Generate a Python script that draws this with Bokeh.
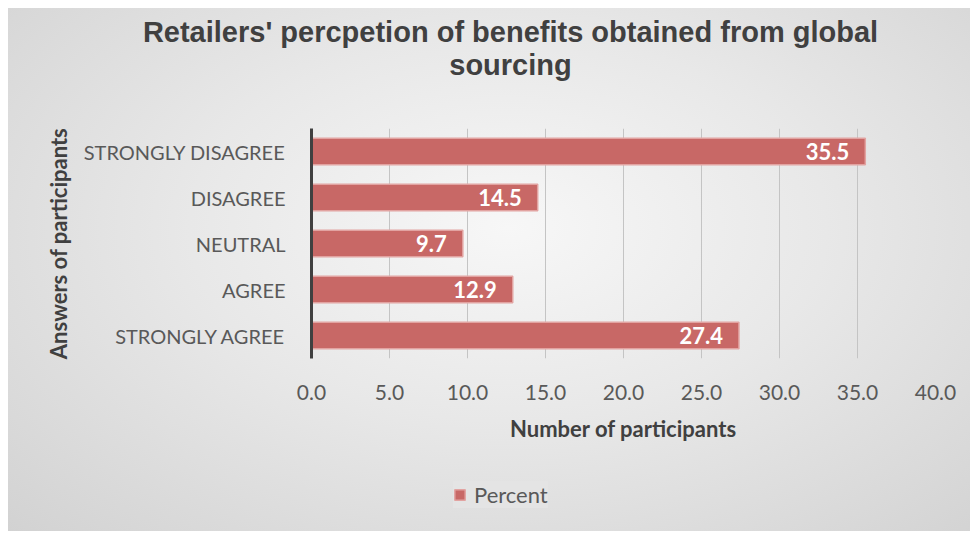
from bokeh.plotting import figure
from bokeh.layouts import column
from bokeh.models import Range1d, FixedTicker, Label, Legend, LegendItem, ColumnDataSource
from bokeh.core.properties import value
from bokeh.embed import file_html
from bokeh.resources import INLINE

categories = ["STRONGLY AGREE", "AGREE", "NEUTRAL", "DISAGREE", "STRONGLY DISAGREE"]
percent = [27.4, 12.9, 9.7, 14.5, 35.5]
x_ticks = [0, 5, 10, 15, 20, 25, 30, 35, 40]
title_lines = ["Retailers' percpetion of benefits obtained from global", "sourcing"]
series_name = "Percent"

GRADIENT = "radial-gradient(ellipse at 52% 42%, #F7F7F7 0%, #E8E8E8 45%, #D2D2D2 100%)"
BAR = "#C86866"
BAR_LINE = "#E2A3A1"
W = 962


def transparent(f):
    f.background_fill_alpha = 0
    f.border_fill_alpha = 0
    f.outline_line_color = None
    f.frame_align = False


def blank(height, xr, yr):
    f = figure(width=W, height=height, output_backend="svg", toolbar_location=None,
               x_range=xr, y_range=yr,
               x_axis_location=None, y_axis_location=None,
               min_border=0, min_border_left=0, min_border_right=0,
               min_border_top=0, min_border_bottom=0)
    f.grid.visible = False
    transparent(f)
    return f


# ---- title strip
tf = blank(80, Range1d(0, W), Range1d(0, 80))
for txt, yy in zip(title_lines, [57, 24]):
    tf.add_layout(Label(x=502, y=yy, text=txt, text_align="center", text_baseline="middle",
                        text_font="Liberation Sans", text_font_style="bold",
                        text_font_size="29px", text_color="#404040"))

# ---- main chart
p = figure(width=W, height=372, output_backend="svg", toolbar_location=None,
           x_range=Range1d(0, 40), y_range=Range1d(-0.5, 4.5),
           min_border_left=303, min_border_right=35, min_border_top=40, min_border_bottom=102)
p.title = None
transparent(p)

ys = list(range(len(categories)))
src = ColumnDataSource(dict(y=ys, v=percent, lbl=[f"{v:.1f}" for v in percent]))
p.hbar(y="y", right="v", left=0, height=0.58, source=src,
       fill_color=BAR, line_color=BAR_LINE, line_width=1.5)
p.text(x="v", y="y", text="lbl", source=src, x_offset=-16,
       text_align="right", text_baseline="middle", text_color="white",
       text_font=value("Lato"), text_font_style="bold", text_font_size="22px")

xa = p.xaxis[0]
xa.ticker = FixedTicker(ticks=x_ticks)
xa.major_label_overrides = {t: f"{t:.1f}" for t in x_ticks}
xa.axis_line_color = None
xa.major_tick_line_color = None
xa.minor_tick_line_color = None
xa.major_label_text_font = "Lato"
xa.major_label_text_font_size = "21px"
xa.major_label_text_color = "#595959"
xa.major_label_standoff = 20
xa.axis_label = "Number of participants"
xa.axis_label_text_font = "Lato"
xa.axis_label_text_font_style = "bold"
xa.axis_label_text_font_size = "22px"
xa.axis_label_text_color = "#404040"
xa.axis_label_standoff = 12

ya = p.yaxis[0]
ya.ticker = FixedTicker(ticks=ys)
ya.major_label_overrides = {i: c for i, c in enumerate(categories)}
ya.axis_line_color = "#404040"
ya.axis_line_width = 3
ya.major_tick_line_color = None
ya.minor_tick_line_color = None
ya.major_label_text_font = "Lato"
ya.major_label_text_font_size = "20px"
ya.major_label_text_color = "#595959"
ya.major_label_standoff = 20
ya.axis_label = "Answers of participants"
ya.axis_label_text_font = "Lato"
ya.axis_label_text_font_style = "bold"
ya.axis_label_text_font_size = "22px"
ya.axis_label_text_color = "#404040"
ya.axis_label_standoff = 9

p.xgrid.grid_line_color = "#C4C4C4"
p.xgrid.grid_line_width = 1
p.ygrid.grid_line_color = None

# ---- legend strip: its ranges keep the series' bars out of view, only the swatch shows
lf = blank(71, Range1d(-100, -50), Range1d(100, 200))
lr = lf.hbar(y="y", right="v", left=0, height=0.58, source=src,
             fill_color=BAR, line_color=BAR_LINE, line_width=1.5)
legend = Legend(items=[LegendItem(label=series_name, renderers=[lr])],
                location=(445, 23), orientation="horizontal",
                background_fill_color="#E4E4E4", background_fill_alpha=1,
                border_line_color=None, label_text_font="Lato", label_text_font_size="22px",
                label_text_color="#595959", glyph_width=13, glyph_height=13,
                padding=12, margin=0, label_standoff=8)
lf.add_layout(legend)

layout = column(tf, p, lf, spacing=0)
layout.margin = (8, 0, 0, 8)
layout.styles = {"background": GRADIENT}
open("out.html", "w").write(file_html(layout, INLINE))
